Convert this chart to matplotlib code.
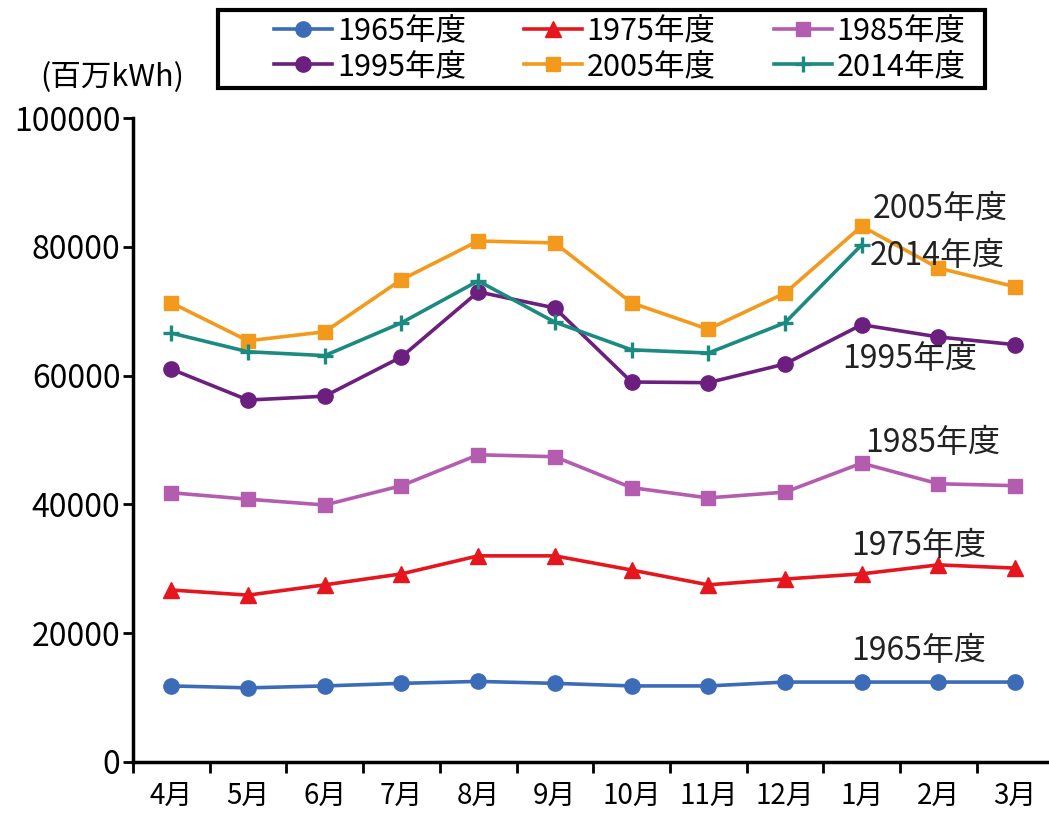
import matplotlib
matplotlib.use("Agg")
import matplotlib.pyplot as plt
from matplotlib.patches import Rectangle
import numpy as np

plt.rcParams['font.family'] = ['Noto Sans CJK JP', 'DejaVu Sans']

months = ["4月", "5月", "6月", "7月", "8月", "9月", "10月", "11月", "12月", "1月", "2月", "3月"]

y1965 = [11800, 11500, 11800, 12200, 12500, 12200, 11800, 11800, 12400, 12400, 12400, 12400]
y1975 = [26700, 25900, 27500, 29200, 32000, 32000, 29800, 27500, 28400, 29200, 30600, 30100]
y1985 = [41800, 40800, 39900, 42900, 47700, 47400, 42600, 41000, 41900, 46400, 43200, 42900]
y1995 = [61000, 56200, 56800, 62900, 73000, 70500, 59000, 58900, 61800, 67900, 66000, 64800]
y2005 = [71300, 65400, 66800, 74900, 80900, 80600, 71300, 67200, 72800, 83200, 76700, 73800]
y2014 = [66600, 63700, 63100, 68200, 74700, 68300, 64000, 63500, 68200, 80300, np.nan, np.nan]

series = [
    ("1965年度", y1965, "#3c6cb8", "o", 11),
    ("1975年度", y1975, "#e5161d", "^", 11),
    ("1985年度", y1985, "#b45cb0", "s", 10),
    ("1995年度", y1995, "#6c1f7e", "o", 11),
    ("2005年度", y2005, "#f39a1c", "s", 10),
    ("2014年度", y2014, "#1b8a80", "+", 11),
]

fig = plt.figure(figsize=(10.49, 8.14), dpi=100)
ax = fig.add_axes([0.1268, 0.064, 0.873, 0.791])

x = np.arange(len(months))
handles = []
for name, vals, col, mk, ms in series:
    h, = ax.plot(x, vals, color=col, marker=mk, markersize=ms, linewidth=2.6,
                 markeredgewidth=2.4 if mk == "+" else 1, label=name)
    handles.append(h)

ax.set_xlim(-0.5, 11.44)
ax.set_ylim(0, 100000)
ax.set_yticks(np.arange(0, 100001, 20000))
ax.tick_params(axis='y', labelsize=23, length=7, width=2, pad=2)

ax.set_xticks(np.arange(-0.5, 11, 1.0))
ax.set_xticklabels([])
ax.tick_params(axis='x', which='major', length=8, width=2)
ax.set_xticks(x, minor=True)
ax.set_xticklabels(months, minor=True, fontsize=20)
ax.tick_params(axis='x', which='minor', length=0, pad=14)

for s in ["top", "right"]:
    ax.spines[s].set_visible(False)
for s in ["left", "bottom"]:
    ax.spines[s].set_linewidth(2.5)

labels = [
    ("2005年度", 9.14, 85800),
    ("2014年度", 9.1, 78600),
    ("1995年度", 8.75, 62600),
    ("1985年度", 9.05, 49500),
    ("1975年度", 8.86, 33600),
    ("1965年度", 8.86, 17200),
]
for txt, lx, ly in labels:
    ax.text(lx, ly, txt, fontsize=23, ha='left', va='center', color='#222222')

fig.text(0.038, 0.905, "(百万kWh)", fontsize=22, ha='left', va='center')

# legend, row order like the original
order = [0, 3, 1, 4, 2, 5]
leg = fig.legend([handles[i] for i in order], [series[i][0] for i in order],
                 loc='center left', bbox_to_anchor=(0.247, 0.94), ncol=3,
                 fontsize=22, frameon=False, handlelength=1.9,
                 columnspacing=1.9, borderpad=0.0, labelspacing=0.15,
                 handletextpad=0.15)
fig.patches.append(Rectangle((0.208, 0.892), 0.731, 0.096, transform=fig.transFigure,
                             fill=False, edgecolor='black', linewidth=3))

fig.savefig("out.png", dpi=100)
